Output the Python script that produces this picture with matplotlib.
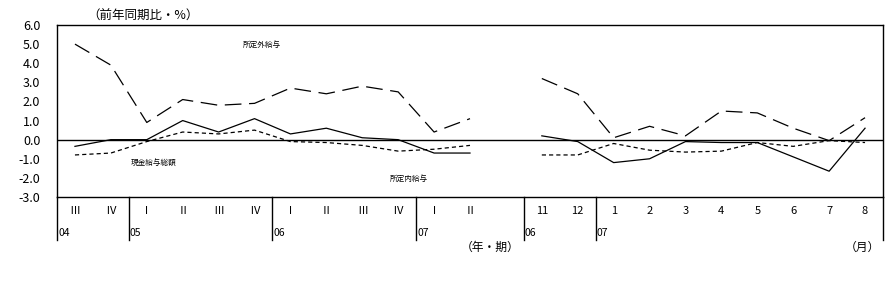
import matplotlib.pyplot as plt
import numpy as np

plt.rcParams['font.family'] = ['Noto Sans CJK JP', 'DejaVu Sans']
plt.rcParams['lines.scale_dashes'] = False

# quarterly part (2004 III .. 2007 II)
quarters = ['Ⅲ', 'Ⅳ', 'Ⅰ', 'Ⅱ', 'Ⅲ', 'Ⅳ', 'Ⅰ', 'Ⅱ', 'Ⅲ', 'Ⅳ', 'Ⅰ', 'Ⅱ']
q_years = ['04', '05', '06', '07']
q_year_start = [0, 2, 6, 10]
q_overtime = [5.0, 3.9, 0.9, 2.1, 1.8, 1.9, 2.7, 2.4, 2.8, 2.5, 0.4, 1.1]
q_total = [-0.35, 0.0, 0.0, 1.0, 0.4, 1.1, 0.3, 0.6, 0.1, 0.0, -0.7, -0.7]
q_sched = [-0.8, -0.7, -0.1, 0.4, 0.3, 0.5, -0.1, -0.15, -0.3, -0.6, -0.5, -0.3]

# monthly part (2006/11 .. 2007/8)
months = ['11', '12', '1', '2', '3', '4', '5', '6', '7', '8']
m_years = ['06', '07']
m_year_start = [0, 2]
m_overtime = [3.2, 2.4, 0.1, 0.7, 0.2, 1.5, 1.4, 0.6, -0.05, 1.15]
m_total = [0.2, -0.1, -1.2, -1.0, -0.1, -0.15, -0.15, -0.9, -1.65, 0.6]
m_sched = [-0.8, -0.8, -0.2, -0.55, -0.65, -0.6, -0.15, -0.35, -0.05, -0.15]

W, H = 889, 286
fig = plt.figure(figsize=(W / 100, H / 100), dpi=100)
ax = fig.add_axes([57 / W, 1 - 197 / H, 826 / W, 172 / H])

xq = np.arange(len(quarters))
xm = np.arange(len(months)) + len(quarters) + 1

long_d = (0, (12, 5.5))
short_d = (0, (3, 2.2))
for x, ov, tot, sc in [(xq, q_overtime, q_total, q_sched), (xm, m_overtime, m_total, m_sched)]:
    ax.plot(x, ov, color='black', lw=0.9, linestyle=long_d)
    ax.plot(x, tot, color='black', lw=0.9)
    ax.plot(x, sc, color='black', lw=0.9, linestyle=short_d)

ax.axhline(0, color='black', lw=1)
ax.set_xlim(-0.5, xm[-1] + 0.5)
ax.set_ylim(-3, 6)
ax.set_yticks(np.arange(-3, 7, 1))
ax.set_yticklabels([f'{v:.1f}' for v in np.arange(-3, 7, 1)], fontsize=9)
ax.tick_params(axis='y', length=0, pad=12)
ax.set_xticks([])
for s in ax.spines.values():
    s.set_linewidth(1)

tr = ax.get_xaxis_transform()
# vertical dividers below the axis (including extended spines)
dividers = [-0.5] + [xq[i] - 0.5 for i in q_year_start[1:]] + [xm[i] - 0.5 for i in m_year_start] + [xm[-1] + 0.5]
for d in dividers:
    ax.plot([d, d], [0, -0.25], color='black', lw=1, transform=tr, clip_on=False)

for x, lab in zip(xq, quarters):
    ax.text(x, -0.08, lab, transform=tr, ha='center', va='center', fontsize=8)
for x, lab in zip(xm, months):
    ax.text(x, -0.08, lab, transform=tr, ha='center', va='center', fontsize=8)
for i, lab in zip(q_year_start, q_years):
    ax.text(xq[i] - 0.47, -0.21, lab, transform=tr, ha='left', va='center', fontsize=7.5)
for i, lab in zip(m_year_start, m_years):
    ax.text(xm[i] - 0.47, -0.21, lab, transform=tr, ha='left', va='center', fontsize=7.5)

ax.text(xq[11] + 0.55, -0.29, '（年・期）', transform=tr, ha='center', va='center', fontsize=8.5)
ax.text(xm[-1] + 0.42, -0.29, '（月）', transform=tr, ha='right', va='center', fontsize=8.5)

fig.text(143 / W, 1 - 16 / H, '（前年同期比・%）', ha='center', va='center', fontsize=9)

ax.text(5.2, 4.9, '所定外給与', ha='center', va='center', fontsize=5.5)
ax.text(2.2, -1.25, '現金給与総額', ha='center', va='center', fontsize=5.5)
ax.text(9.3, -2.1, '所定内給与', ha='center', va='center', fontsize=5.5)

fig.savefig('out.png', dpi=100)
